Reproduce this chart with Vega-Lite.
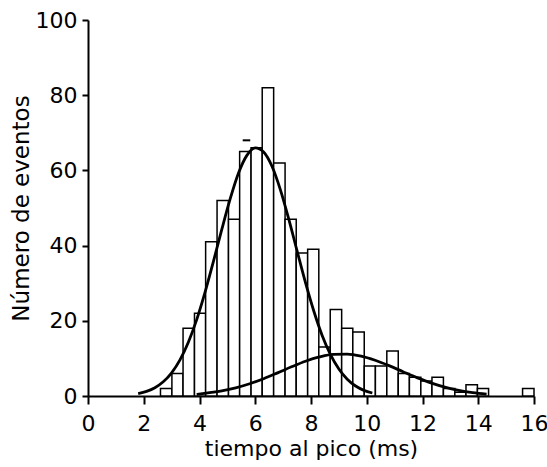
{
  "$schema": "https://vega.github.io/schema/vega-lite/v6.json",
  "width": 446,
  "height": 376,
  "autosize": {"type": "none"},
  "padding": {"left": 88, "top": 20, "right": 13, "bottom": 71},
  "background": "white",
  "config": {"view": {"stroke": null}, "font": "DejaVu Sans"},
  "datasets": {
    "bins": [
      {"start": 2.60, "end": 3.01, "count": 2},
      {"start": 3.01, "end": 3.41, "count": 6},
      {"start": 3.41, "end": 3.82, "count": 18},
      {"start": 3.82, "end": 4.22, "count": 22},
      {"start": 4.22, "end": 4.63, "count": 41},
      {"start": 4.63, "end": 5.04, "count": 52},
      {"start": 5.04, "end": 5.44, "count": 47},
      {"start": 5.44, "end": 5.85, "count": 65},
      {"start": 5.85, "end": 6.25, "count": 66},
      {"start": 6.25, "end": 6.66, "count": 82},
      {"start": 6.66, "end": 7.07, "count": 62},
      {"start": 7.07, "end": 7.47, "count": 47},
      {"start": 7.47, "end": 7.88, "count": 38},
      {"start": 7.88, "end": 8.28, "count": 39},
      {"start": 8.28, "end": 8.69, "count": 13},
      {"start": 8.69, "end": 9.10, "count": 23},
      {"start": 9.10, "end": 9.50, "count": 18},
      {"start": 9.50, "end": 9.91, "count": 17},
      {"start": 9.91, "end": 10.31, "count": 8},
      {"start": 10.31, "end": 10.72, "count": 8},
      {"start": 10.72, "end": 11.13, "count": 12},
      {"start": 11.13, "end": 11.53, "count": 6},
      {"start": 11.53, "end": 11.94, "count": 5},
      {"start": 11.94, "end": 12.34, "count": 4},
      {"start": 12.34, "end": 12.75, "count": 5},
      {"start": 12.75, "end": 13.16, "count": 2},
      {"start": 13.16, "end": 13.56, "count": 1},
      {"start": 13.56, "end": 13.97, "count": 3},
      {"start": 13.97, "end": 14.37, "count": 2},
      {"start": 15.59, "end": 16.00, "count": 2}
    ],
    "curves": [
      {"component": "a", "t": 1.8, "n": 0.66},
      {"component": "a", "t": 2.1, "n": 1.23},
      {"component": "a", "t": 2.4, "n": 2.2},
      {"component": "a", "t": 2.7, "n": 3.77},
      {"component": "a", "t": 3.0, "n": 6.15},
      {"component": "a", "t": 3.3, "n": 9.59},
      {"component": "a", "t": 3.6, "n": 14.3},
      {"component": "a", "t": 3.9, "n": 20.3},
      {"component": "a", "t": 4.2, "n": 27.6},
      {"component": "a", "t": 4.5, "n": 35.8},
      {"component": "a", "t": 4.8, "n": 44.3},
      {"component": "a", "t": 5.1, "n": 52.4},
      {"component": "a", "t": 5.4, "n": 59.3},
      {"component": "a", "t": 5.7, "n": 64.0},
      {"component": "a", "t": 6.0, "n": 66.0},
      {"component": "a", "t": 6.3, "n": 64.9},
      {"component": "a", "t": 6.6, "n": 61.1},
      {"component": "a", "t": 6.9, "n": 54.9},
      {"component": "a", "t": 7.2, "n": 47.1},
      {"component": "a", "t": 7.5, "n": 38.6},
      {"component": "a", "t": 7.8, "n": 30.2},
      {"component": "a", "t": 8.1, "n": 22.6},
      {"component": "a", "t": 8.4, "n": 16.1},
      {"component": "a", "t": 8.7, "n": 11.0},
      {"component": "a", "t": 9.0, "n": 7.17},
      {"component": "a", "t": 9.3, "n": 4.46},
      {"component": "a", "t": 9.6, "n": 2.65},
      {"component": "a", "t": 9.9, "n": 1.5},
      {"component": "a", "t": 10.2, "n": 0.8},
      {"component": "b", "t": 3.9, "n": 0.4},
      {"component": "b", "t": 4.3, "n": 0.82},
      {"component": "b", "t": 4.8, "n": 1.38},
      {"component": "b", "t": 5.3, "n": 2.18},
      {"component": "b", "t": 5.8, "n": 3.26},
      {"component": "b", "t": 6.3, "n": 4.6},
      {"component": "b", "t": 6.8, "n": 6.15},
      {"component": "b", "t": 7.3, "n": 7.76},
      {"component": "b", "t": 7.8, "n": 9.25},
      {"component": "b", "t": 8.3, "n": 10.4},
      {"component": "b", "t": 8.8, "n": 11.09},
      {"component": "b", "t": 9.3, "n": 11.15},
      {"component": "b", "t": 9.8, "n": 10.6},
      {"component": "b", "t": 10.3, "n": 9.5},
      {"component": "b", "t": 10.8, "n": 8.07},
      {"component": "b", "t": 11.3, "n": 6.47},
      {"component": "b", "t": 11.8, "n": 4.9},
      {"component": "b", "t": 12.3, "n": 3.5},
      {"component": "b", "t": 12.8, "n": 2.37},
      {"component": "b", "t": 13.3, "n": 1.52},
      {"component": "b", "t": 13.8, "n": 0.92},
      {"component": "b", "t": 14.3, "n": 0.52}
    ],
    "dash": [
      {"t0": 5.55, "t1": 5.82, "n": 68}
    ]
  },
  "layer": [
    {
      "data": {"name": "bins"},
      "mark": {"type": "bar", "fill": "white", "stroke": "black", "strokeWidth": 1.5},
      "encoding": {
        "x": {
          "field": "start", "type": "quantitative",
          "scale": {"domain": [0, 16], "nice": false},
          "axis": {
            "values": [0, 2, 4, 6, 8, 10, 12, 14, 16],
            "title": "tiempo al pico (ms)",
            "grid": false,
            "domainColor": "black", "domainWidth": 2,
            "tickColor": "black", "tickWidth": 2, "tickSize": 8,
            "labelFontSize": 22, "labelColor": "black", "labelPadding": 9, "labelFlush": false,
            "titleFontSize": 22, "titleFontWeight": "normal", "titleColor": "black", "titlePadding": 4
          }
        },
        "x2": {"field": "end"},
        "y": {
          "field": "count", "type": "quantitative",
          "scale": {"domain": [0, 100], "nice": false},
          "axis": {
            "values": [0, 20, 40, 60, 80, 100],
            "title": "Número de eventos",
            "grid": false,
            "domainColor": "black", "domainWidth": 2,
            "tickColor": "black", "tickWidth": 2, "tickSize": 6,
            "labelFontSize": 22, "labelColor": "black", "labelPadding": 5, "labelFlush": false,
            "titleFontSize": 23, "titleFontWeight": "normal", "titleColor": "black", "titlePadding": 2
          }
        },
        "y2": {"datum": 0}
      }
    },
    {
      "data": {"name": "curves"},
      "mark": {"type": "line", "color": "black", "strokeWidth": 2.8, "interpolate": "monotone"},
      "encoding": {
        "x": {"field": "t", "type": "quantitative"},
        "y": {"field": "n", "type": "quantitative"},
        "detail": {"field": "component", "type": "nominal"}
      }
    },
    {
      "data": {"name": "dash"},
      "mark": {"type": "rule", "color": "black", "strokeWidth": 2},
      "encoding": {
        "x": {"field": "t0", "type": "quantitative"},
        "x2": {"field": "t1"},
        "y": {"field": "n", "type": "quantitative"}
      }
    }
  ]
}
